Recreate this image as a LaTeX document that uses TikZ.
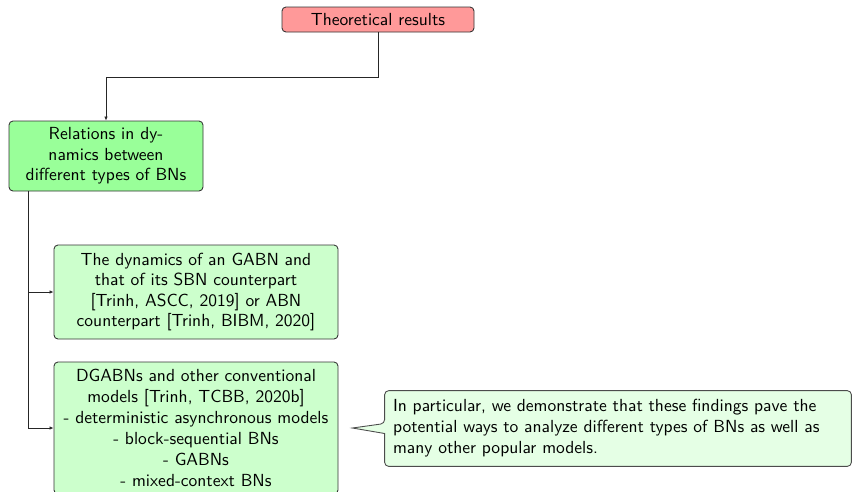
\documentclass[tikz,border=0pt]{standalone}
\usetikzlibrary{arrows.meta,backgrounds,calc}
\def\px{0.5714pt}
\begin{document}
\begin{tikzpicture}[
  x=0.5714pt, y=-0.5714pt,
  every node/.style={font=\fontsize{10pt}{11.8pt}\selectfont\sffamily},
  boxbase/.style={draw=black!80, line width=0.5pt, rounded corners=4*\px,
    align=center, inner sep=0pt},
  topbox/.style={boxbase, fill=red!40},
  midbox/.style={boxbase, fill=green!40},
  leafbox/.style={boxbase, fill=green!20},
  notetext/.style={align=left, inner sep=0pt,
    font=\fontsize{10pt}{12pt}\selectfont\sffamily},
  noteline/.style={draw=black!70, line width=0.5pt, fill=green!10},
  link/.style={draw=black!85, line width=0.5pt},
  arr/.style={link, -{Latex[length=4*\px, width=3.5*\px]}}
]
\useasboundingbox (0,0) rectangle (852,491);
\clip (0,0) rectangle (852,491);

% boxes
\node[topbox, minimum width=192*\px, minimum height=25*\px] (top) at (378,19.5)
  {Theoretical results};
\node[midbox, minimum width=194*\px, minimum height=70*\px] (rel) at (106,156)
  {Relations in dy-\\namics between\\different types of BNs};
\node[leafbox, minimum width=284*\px, minimum height=94*\px] (b1) at (196,292)
  {The dynamics of an GABN and\\that of its SBN counterpart\\{[}Trinh, ASCC, 2019{]} or ABN\\counterpart [Trinh, BIBM, 2020]};
\node[leafbox, minimum width=284*\px, minimum height=132*\px,
  font=\fontsize{10pt}{12pt}\selectfont\sffamily] (b2) at (196,428)
  {DGABNs and other conventional\\models [Trinh, TCBB, 2020b]\\- deterministic asynchronous models\\- block-sequential BNs\\- GABNs\\- mixed-context BNs};

% remark with a pointer towards the second leaf
\node[notetext, minimum width=450*\px, minimum height=75*\px, text width=450*\px] (note) at (618,428.5)
  {In particular, we demonstrate that these findings pave the\\potential ways to analyze different types of BNs as well as\\many other popular models.};
\coordinate (tip) at ($(b2.east)+(14,0)$);
\coordinate (nw) at ($(note.north west)+(-8,0)$);
\coordinate (sw) at ($(note.south west)+(-8,0)$);
\coordinate (ne) at ($(note.north east)+(8,0)$);
\coordinate (se) at ($(note.south east)+(8,0)$);
\begin{scope}[on background layer]
  \draw[noteline] (tip) -- ($(note.west)+(-8,5)$)
    [rounded corners=4*\px] -- (sw) -- (se) -- (ne) -- (nw)
    -- ($(note.west)+(-8,-5)$) [sharp corners] -- cycle;
\end{scope}

% connectors
\coordinate (bend) at (0,77);
\draw[arr] (top.south) -- (top.south |- bend) -| (rel.north);
\coordinate (trunk) at ($(rel.south west)+(20,0)$);
\draw[arr] (trunk) |- (b1.west);
\draw[arr] (trunk) |- (b2.west);
\end{tikzpicture}
\end{document}
